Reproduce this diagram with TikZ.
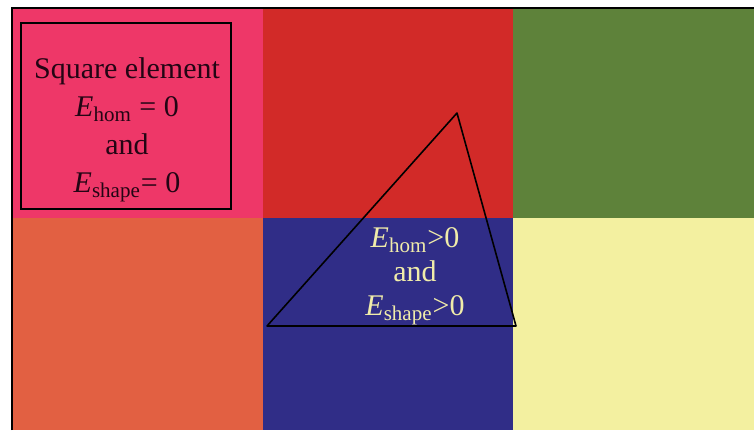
\documentclass[tikz,border=0pt]{standalone}
\usepackage{fontspec}
\setmainfont{Liberation Serif}
\usetikzlibrary{positioning}
\definecolor{cellpink}{RGB}{238,55,104}
\definecolor{cellred}{RGB}{210,42,40}
\definecolor{cellgreen}{RGB}{94,130,58}
\definecolor{cellorange}{RGB}{226,96,66}
\definecolor{cellblue}{RGB}{48,45,135}
\definecolor{cellyellow}{RGB}{243,240,160}
\definecolor{darktext}{RGB}{35,5,20}
\definecolor{lighttext}{RGB}{240,236,170}
\newcommand{\energy}[1]{\textit{E}\textsubscript{#1}}

\begin{document}
\begin{tikzpicture}[
  x=0.5pt, y=-0.5pt,
  label/.style={align=center, inner sep=0pt, font=\fontsize{15}{19}\selectfont},
  edge/.style={draw=black, line width=0.8pt}
]
  \useasboundingbox (0,0) rectangle (754,430);
  % cells
  \fill[cellpink]   (13,9)   rectangle (263,218);
  \fill[cellred]    (263,9)  rectangle (513,218);
  \fill[cellgreen]  (513,9)  rectangle (754,218);
  \fill[cellorange] (13,218) rectangle (263,430);
  \fill[cellblue]   (263,218) rectangle (513,430);
  \fill[cellyellow] (513,218) rectangle (754,430);
  \draw[line width=1.2pt] (12,430) -- (12,8) -- (754,8);

  % square element
  \node[edge, minimum width=105pt, minimum height=93pt] (sq) at (126,116) {};
  \node[label, text=darktext] (sqtext) at (127,130)
    {Square element\\ \energy{hom} = 0\\ and\\ \energy{shape}= 0};

  % distorted element
  \coordinate (ta) at (457,113);
  \coordinate (tb) at (267,326);
  \coordinate (tc) at (516,326);
  \draw[edge, line join=round] (ta) -- (tb) -- (tc) -- cycle;
  \node[label, text=lighttext, font=\fontsize{15}{17}\selectfont] (tritext) at (415,276)
    {\energy{hom}{>}0\\ and\\ \energy{shape}{>}0};
\end{tikzpicture}
\end{document}
